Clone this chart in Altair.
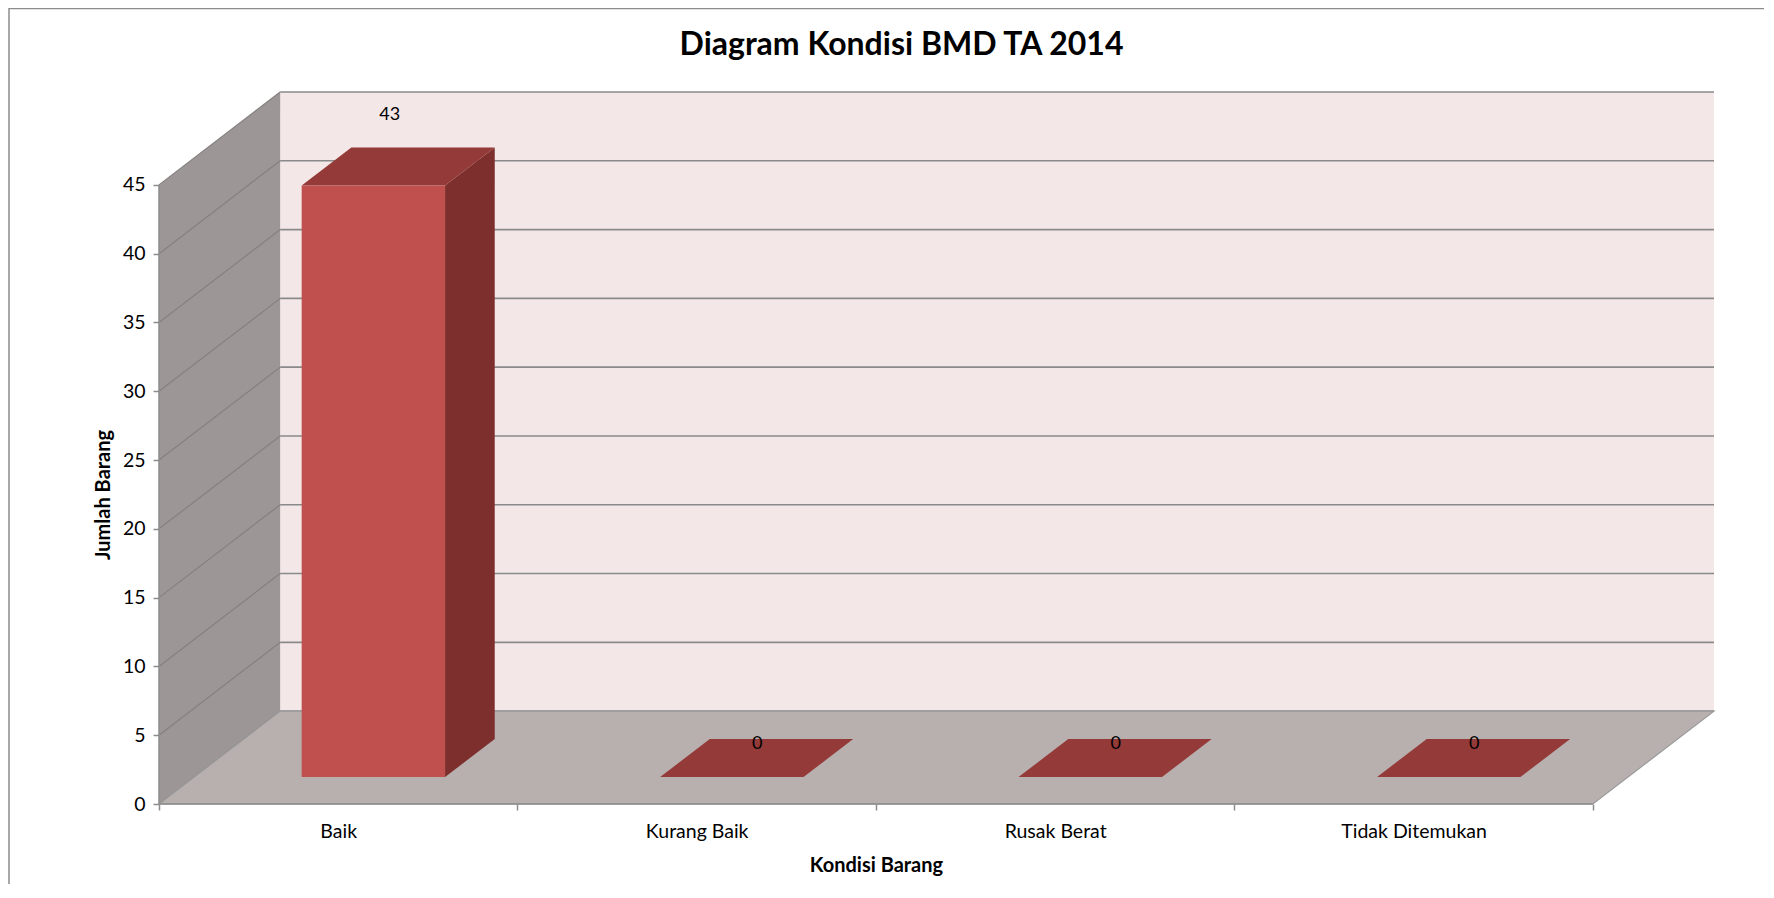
import json
import altair as alt
import pandas as pd

# ---------------- data ----------------
categories = ["Baik", "Kurang Baik", "Rusak Berat", "Tidak Ditemukan"]
values = [43, 0, 0, 0]
y_ticks = [0, 5, 10, 15, 20, 25, 30, 35, 40, 45]

title_text = "Diagram Kondisi BMD TA 2014"
x_title = "Kondisi Barang"
y_title = "Jumlah Barang"

# ---------------- 3D (oblique) styling ----------------
DX = 0.338          # depth offset, in category units
DY = 6.75           # depth offset, in value units
F0, F1 = 0.29, 0.70 # bar front / back depth fraction
BL, BR = 0.30, 0.70 # bar left / right inside its category
N = len(categories)
Y_TOP = max(y_ticks)

W, H = 1555, 712
FONT = "Lato"

sx = alt.Scale(domain=[0, N + DX], nice=False, zero=False)
sy = alt.Scale(domain=[0, Y_TOP + DY], nice=False, zero=False)

label_expr = f"(datum.value % 1) == 0.5 ? {json.dumps(categories)}[floor(datum.value)] : ''"
x_axis = alt.Axis(
    values=[i * 0.5 for i in range(2 * N + 1)],
    labelExpr=label_expr, labelOverlap=False, labelFlush=False,
    title=x_title, grid=False, domain=False, tickSize=6, tickWidth=1.5,
    tickColor={"condition": {"test": "(datum.value % 1) == 0", "value": "#8C8C8C"},
               "value": "transparent"},
    labelFont=FONT, labelFontSize=19.5, labelColor="#000000", labelPadding=12,
    titleFont=FONT, titleFontSize=20, titleFontWeight="bold", titleColor="#000000",
    titleX=2 * W / (N + DX), titleY=61, titleAlign="center", titleBaseline="middle",
)
y_axis = alt.Axis(
    values=y_ticks, title=y_title, grid=False, domain=False,
    tickSize=6, tickWidth=1.5, tickColor="#8C8C8C",
    labelFont=FONT, labelFontSize=19.5, labelColor="#000000", labelPadding=8,
    titleFont=FONT, titleFontSize=20, titleFontWeight="bold", titleColor="#000000",
    titleAngle=270, titleX=-56, titleY=H - (Y_TOP / 2) * H / (Y_TOP + DY),
    titleAlign="center", titleBaseline="middle",
)


def X(f, axis=alt.Undefined):
    return alt.X(f, type="quantitative", scale=sx, axis=axis)


def Y(f, axis=alt.Undefined):
    return alt.Y(f, type="quantitative", scale=sy, axis=axis)


# back wall
wall_df = pd.DataFrame({"x": [DX], "x2": [N + DX], "y": [DY], "y2": [Y_TOP + DY]})
back_wall = alt.Chart(wall_df).mark_rect(color="#F3E7E7").encode(
    x=X("x", x_axis), x2="x2:Q", y=Y("y", y_axis), y2="y2:Q")

# gridlines on the back wall
grid_df = pd.DataFrame({"t": y_ticks})
grid_df["x"] = DX
grid_df["x2"] = N + DX
grid_df["y"] = grid_df["t"] + DY
back_grid = alt.Chart(grid_df).mark_rule(color="#8A8A8A", strokeWidth=1.6).encode(
    x=X("x"), x2="x2:Q", y=Y("y"))

# left wall
lw_df = pd.DataFrame({"x": [0, DX], "ylo": [0, DY], "yhi": [Y_TOP, Y_TOP + DY]})
left_wall = alt.Chart(lw_df).mark_area(color="#9C9696", orient="vertical").encode(
    x=X("x"), y=Y("yhi"), y2="ylo:Q")

diag_df = pd.DataFrame({"t": y_ticks})
diag_df["x"] = 0.0
diag_df["x2"] = DX
diag_df["y"] = diag_df["t"]
diag_df["y2"] = diag_df["t"] + DY
left_diag = alt.Chart(diag_df).mark_rule(color="#858080", strokeWidth=1.2).encode(
    x=X("x"), x2="x2:Q", y=Y("y"), y2="y2:Q")

# floor
fl_df = pd.DataFrame({"y": [0, DY], "xl": [0, DX], "xr": [N, N + DX]})
floor = alt.Chart(fl_df).mark_area(
    color="#B8AFAF", orient="horizontal", stroke="#9A9A9A", strokeWidth=1.2
).encode(y=Y("y"), x=X("xl"), x2="xr:Q")

# front edges (value axis line, category axis line)
yline_df = pd.DataFrame({"x": [0.0], "y": [0.0], "y2": [float(Y_TOP)]})
y_line = alt.Chart(yline_df).mark_rule(color="#8C8C8C", strokeWidth=1.5).encode(
    x=X("x"), y=Y("y"), y2="y2:Q")
xline_df = pd.DataFrame({"x": [0.0], "x2": [float(N)], "y": [0.0]})
x_line = alt.Chart(xline_df).mark_rule(color="#8C8C8C", strokeWidth=1.5).encode(
    x=X("x"), x2="x2:Q", y=Y("y"))

# bars
rows_front, rows_side, rows_top, rows_lab = [], [], [], []
for i, (c, v) in enumerate(zip(categories, values)):
    rows_front.append({"cat": c, "x": i + BL + F0 * DX, "x2": i + BR + F0 * DX,
                       "y": F0 * DY, "y2": v + F0 * DY})
    for f in (F0, F1):
        rows_side.append({"cat": c, "x": i + BR + f * DX, "ylo": f * DY, "yhi": v + f * DY})
        rows_top.append({"cat": c, "y": v + f * DY, "xl": i + BL + f * DX, "xr": i + BR + f * DX})
    rows_lab.append({"cat": c, "value": v, "x": i + 0.5 + 0.5 * DX, "y": v + F1 * DY})

front_df = pd.DataFrame(rows_front)
side_df = pd.DataFrame(rows_side)
top_df = pd.DataFrame(rows_top)
lab_df = pd.DataFrame(rows_lab)

bar_side = alt.Chart(side_df).mark_area(color="#7D2F2E", orient="vertical").encode(
    x=X("x"), y=Y("yhi"), y2="ylo:Q", detail="cat:N")
bar_top = alt.Chart(top_df).mark_area(color="#943A38", orient="horizontal").encode(
    y=Y("y"), x=X("xl"), x2="xr:Q", detail="cat:N")
bar_front = alt.Chart(front_df).mark_rect(color="#C0504D").encode(
    x=X("x"), x2="x2:Q", y=Y("y"), y2="y2:Q")

lab_pos = alt.Chart(lab_df).transform_filter("datum.value > 0").mark_text(
    font=FONT, fontSize=18, color="#000000", baseline="middle", dy=-32, dx=-9
).encode(x=X("x"), y=Y("y"), text="value:Q")
lab_zero = alt.Chart(lab_df).transform_filter("datum.value <= 0").mark_text(
    font=FONT, fontSize=18, color="#000000", baseline="middle", dy=5
).encode(x=X("x"), y=Y("y"), text="value:Q")

# outer chart frame
frame = alt.Chart(pd.DataFrame({"k": [0]})).mark_rect(
    fill="transparent", stroke="#8C8C8C", strokeWidth=1.5
).encode(x=alt.value(-150), x2=alt.value(2000), y=alt.value(-83.5), y2=alt.value(1000))

chart = alt.layer(
    back_wall, back_grid, left_wall, left_diag, floor, y_line, x_line,
    bar_side, bar_top, bar_front, lab_pos, lab_zero, frame,
).properties(
    width=W, height=H,
    title=alt.TitleParams(title_text, font=FONT, fontSize=32, fontWeight="bold",
                          color="#000000", anchor="middle", frame="group",
                          dx=-35, dy=54, offset=0),
    autosize=alt.AutoSizeParams(type="none"),
    padding={"left": 151, "top": 84, "right": 50, "bottom": 80},
    background="white",
).configure_view(stroke=None).configure_axis(grid=False, domain=False)

chart.save("out.html", embed_options={"renderer": "svg", "actions": False})
